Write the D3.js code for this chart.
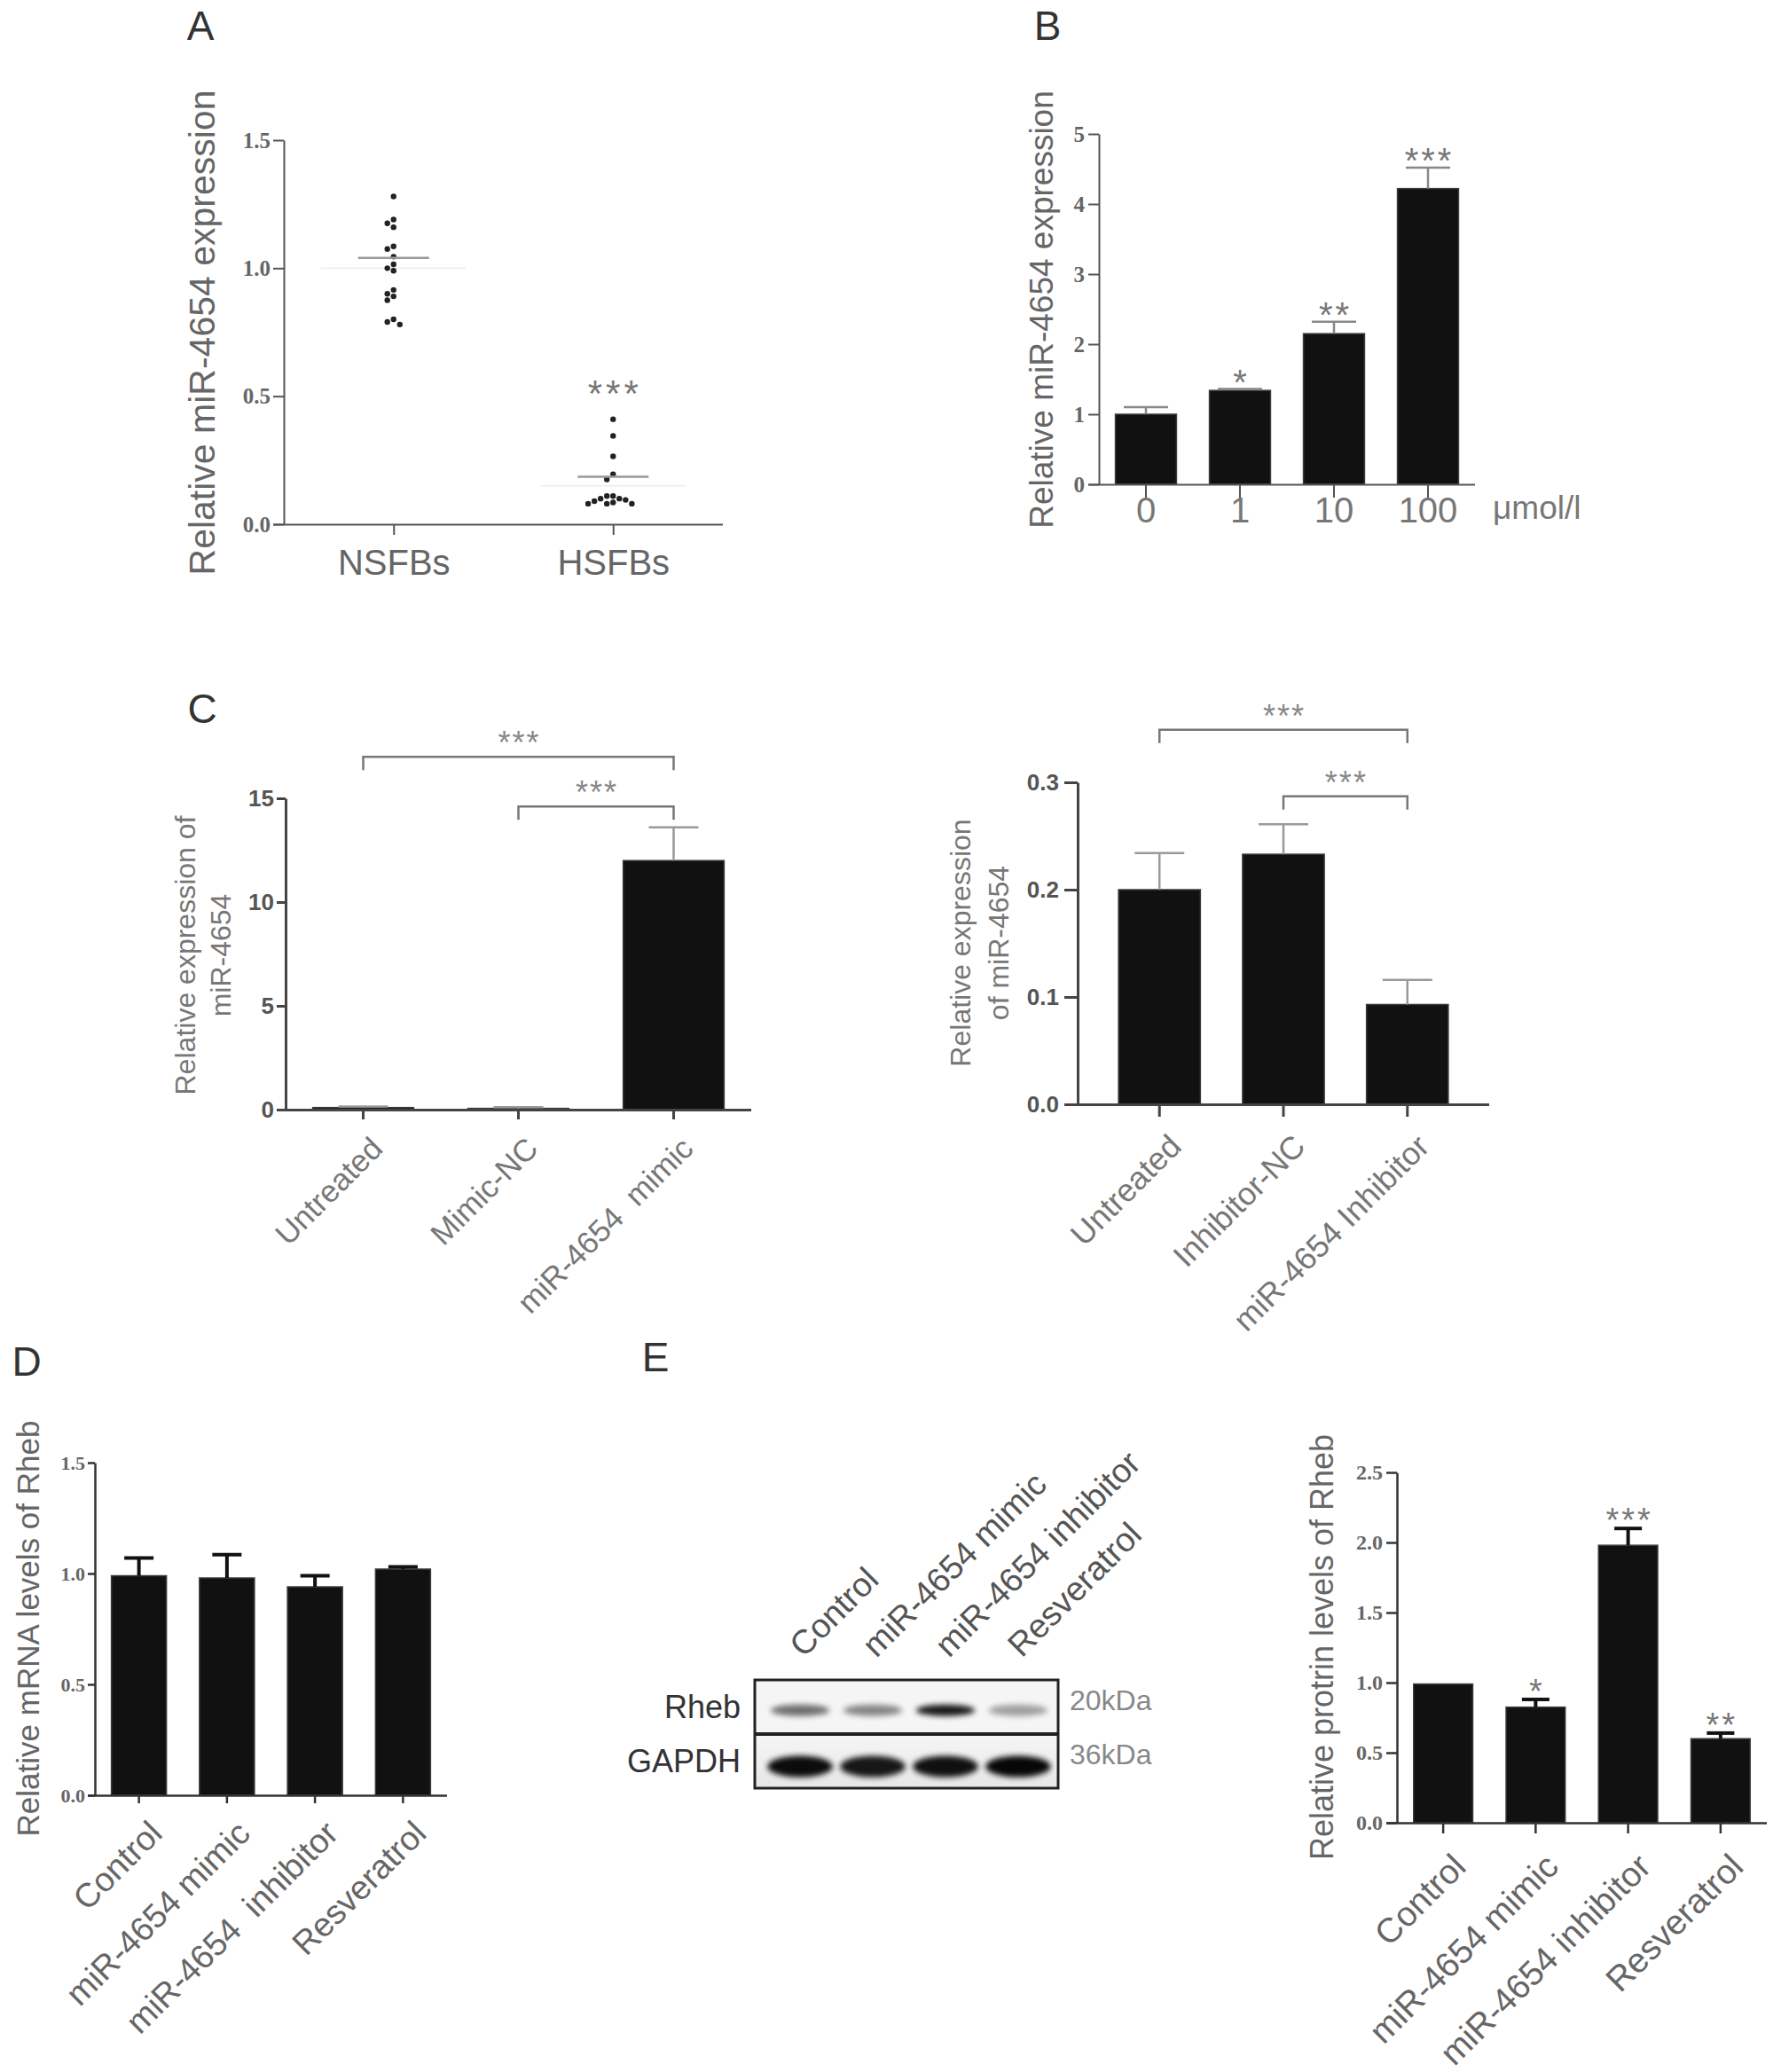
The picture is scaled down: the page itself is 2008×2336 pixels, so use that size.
<!DOCTYPE html>
<html>
<head>
<meta charset="utf-8">
<script src="https://cdn.jsdelivr.net/npm/d3@7"></script>
<style>
  body { margin: 0; background: #fff; }
  svg { display: block; }
</style>
</head>
<body>
<div id="figure"></div>
<script>
// ---- A: scatter of individual samples
const groupsA = ['NSFBs', 'HSFBs']
const nsfbValues = [1.28, 1.19, 1.175, 1.16, 1.085, 1.075, 1.045, 1.015, 1.0, 0.99, 0.915, 0.9, 0.89, 0.875, 0.80, 0.79, 0.78]
const hsfbValues = [0.41, 0.345, 0.265, 0.195, 0.175, 0.11, 0.11, 0.10, 0.10, 0.095, 0.09, 0.085, 0.08, 0.08, 0.08]
const meansA = [1.04, 0.185]
const ghostA = [1.0, 0.15]
const ticksA = [0, 0.5, 1.0, 1.5]
const starsA = ['', '***']

// ---- B: dose response
const dosesB = ['0', '1', '10', '100']
const valuesB = [1.0, 1.34, 2.15, 4.22]
const errorsB = [0.10, 0.02, 0.17, 0.30]
const starsB = ['', '*', '**', '***']
const ticksB = [0, 1, 2, 3, 4, 5]

// ---- C left: mimic
const groupsC1 = ['Untreated', 'Mimic-NC', 'miR-4654  mimic']
const valuesC1 = [0.1, 0.06, 12.0]
const errorsC1 = [0.05, 0.06, 1.6]
const ticksC1 = [0, 5, 10, 15]
const bracketsC1 = [
  { from: 0, to: 2, level: 17, label: '***' },
  { from: 1, to: 2, level: 14.6, label: '***' }
]

// ---- C right: inhibitor
const groupsC2 = ['Untreated', 'Inhibitor-NC', 'miR-4654 Inhibitor']
const valuesC2 = [0.2, 0.233, 0.093]
const errorsC2 = [0.034, 0.028, 0.023]
const ticksC2 = [0, 0.1, 0.2, 0.3]
const bracketsC2 = [
  { from: 0, to: 2, level: 0.349, label: '***' },
  { from: 1, to: 2, level: 0.287, label: '***' }
]

// ---- D: mRNA
const groupsD = ['Control', 'miR-4654 mimic', 'miR-4654  inhibitor', 'Resveratrol']
const valuesD = [0.99, 0.98, 0.94, 1.02]
const errorsD = [0.08, 0.105, 0.05, 0.01]
const ticksD = [0, 0.5, 1.0, 1.5]

// ---- E: western blot + protein
const lanesE = ['Control', 'miR-4654 mimic', 'miR-4654 inhibitor', 'Resveratrol']
const blotRows = ['Rheb', 'GAPDH']
const blotSizes = ['20kDa', '36kDa']
const rhebBand = [0.55, 0.45, 0.9, 0.35]
const gapdhBand = [0.95, 0.9, 0.93, 0.97]
const valuesE = [0.99, 0.825, 1.98, 0.60]
const errorsE = [0, 0.055, 0.12, 0.04]
const starsE = ['', '*', '***', '**']
const ticksE = [0, 0.5, 1.0, 1.5, 2.0, 2.5]

const SANS = "'Liberation Sans', Arial, sans-serif"
const SERIF = "'Liberation Serif', 'Times New Roman', serif"

const svg = d3.select('#figure').append('svg')
    .attr('width', 2008)
    .attr('height', 2336)
    .attr('font-family', SANS)
svg.append('rect').attr('width', 2008).attr('height', 2336).attr('fill', '#fff')

const defs = svg.append('defs')
defs.append('filter').attr('id', 'blur')
    .attr('x', '-30%').attr('y', '-80%').attr('width', '160%').attr('height', '260%')
    .append('feGaussianBlur').attr('stdDeviation', 3.2)
const grad = defs.append('linearGradient').attr('id', 'blotbg').attr('x1', 0).attr('x2', 0).attr('y1', 0).attr('y2', 1)
grad.append('stop').attr('offset', '0%').attr('stop-color', '#f6f6f6')
grad.append('stop').attr('offset', '100%').attr('stop-color', '#e6e6e6')

function panelLetter(letter, x, y) {
    svg.append('text').attr('x', x).attr('y', y)
        .attr('text-anchor', 'middle')
        .attr('font-size', 46).attr('fill', '#333')
        .text(letter)
}

function styleAxis(g, color, width) {
    g.selectAll('path.domain').attr('stroke', color).attr('stroke-width', width)
    g.selectAll('.tick line').attr('stroke', color).attr('stroke-width', width)
}

function yTitle(lines, x, y, size, color, gap) {
    lines.forEach((t, i) => {
        svg.append('text')
            .attr('transform', `translate(${x + i * gap},${y}) rotate(-90)`)
            .attr('text-anchor', 'middle')
            .attr('dominant-baseline', 'central')
            .attr('font-size', size).attr('fill', color)
            .text(t)
    })
}

function stars(g, label, cx, cy, size, spacing, color) {
    g.append('text')
        .attr('x', cx + spacing / 2).attr('y', cy + size * 0.58)
        .attr('text-anchor', 'middle')
        .attr('font-size', size)
        .attr('letter-spacing', spacing)
        .attr('fill', color)
        .text(label)
}

// generic GraphPad-like bar chart
function drawBars(o) {
    const g = svg.append('g')
    const x = d3.scaleBand().domain(o.groups)
        .range([o.left, o.right]).paddingInner(o.padIn).paddingOuter(o.padOut)
    const y = d3.scaleLinear().domain([0, o.ymax]).range([o.bottom, o.top])
    const cx = i => x(o.groups[i]) + x.bandwidth() / 2
    const rows = o.values.map((v, i) => ({ v, e: o.errors[i], i }))

    g.selectAll('rect.bar').data(rows).join('rect')
        .attr('class', 'bar')
        .attr('x', d => x(o.groups[d.i]))
        .attr('y', d => y(d.v))
        .attr('width', x.bandwidth())
        .attr('height', d => o.bottom - y(d.v))
        .attr('fill', '#111')
        .attr('stroke', '#3c3c3c').attr('stroke-width', 1.5)

    // upper error bars
    const eb = g.selectAll('g.err').data(rows.filter(d => d.e > 0)).join('g').attr('class', 'err')
    eb.append('line')
        .attr('x1', d => cx(d.i)).attr('x2', d => cx(d.i))
        .attr('y1', d => y(d.v)).attr('y2', d => y(d.v + d.e))
        .attr('stroke', o.errColor).attr('stroke-width', o.errWidth)
    eb.append('line')
        .attr('x1', d => cx(d.i) - o.cap / 2).attr('x2', d => cx(d.i) + o.cap / 2)
        .attr('y1', d => y(d.v + d.e)).attr('y2', d => y(d.v + d.e))
        .attr('stroke', o.errColor).attr('stroke-width', o.errWidth)

    // y axis
    const ya = g.append('g')
        .attr('transform', `translate(${o.left},0)`)
        .call(d3.axisLeft(y).tickValues(o.ticks).tickFormat(o.fmt)
            .tickSize(o.tick).tickSizeOuter(0).tickPadding(o.tickPad))
    ya.attr('font-family', o.tickFont).attr('font-size', o.tickSize)
        .attr('font-weight', 'bold')
    ya.selectAll('text').attr('fill', o.tickColor)
    styleAxis(ya, o.axisColor, o.axisWidth)

    // x axis, baseline runs under the y ticks as well
    const xa = g.append('g')
        .attr('transform', `translate(0,${o.bottom})`)
        .call(d3.axisBottom(x).tickSize(o.xtick).tickSizeOuter(0))
    styleAxis(xa, o.axisColor, o.axisWidth)
    xa.select('path.domain').attr('d', `M${o.left - o.tick},0.5H${o.right}`)
    xa.attr('font-family', SANS).attr('font-size', o.labelSize)
    xa.selectAll('text').attr('fill', o.labelColor).style('white-space', 'pre')
    if (o.rotate) {
        xa.selectAll('text')
            .attr('x', 0).attr('y', 0).attr('dy', null)
            .attr('transform', `translate(${o.labelDx},${o.labelDy}) rotate(-45)`)
            .attr('text-anchor', 'end')
            .attr('dominant-baseline', 'hanging')
    } else {
        xa.selectAll('text').attr('y', o.labelDy).attr('dy', null)
    }

    if (o.stars) {
        o.stars.forEach((s, i) => {
            if (!s) return
            stars(g, s, cx(i), y(o.values[i] + o.errors[i]) - o.starGap, o.starSize, o.starSpacing, o.starColor)
        })
    }
    if (o.brackets) {
        o.brackets.forEach(b => {
            const yb = y(b.level)
            g.append('path')
                .attr('d', `M${cx(b.from)},${yb + 15}V${yb}H${cx(b.to)}V${yb + 15}`)
                .attr('fill', 'none').attr('stroke', '#777').attr('stroke-width', 2.5)
            stars(g, b.label, (cx(b.from) + cx(b.to)) / 2, yb - 24, o.starSize, o.starSpacing, o.starColor)
        })
    }
    return { g, x, y }
}

// ================= A =================
panelLetter('A', 226, 45)
{
    const g = svg.append('g')
    const x = d3.scalePoint().domain(groupsA).range([320, 815]).padding(0.5)
    const y = d3.scaleLinear().domain([0, 1.5]).range([591, 158])
    const r = 3.2

    ghostA.forEach((v, i) => {
        g.append('line')
            .attr('x1', x(groupsA[i]) - 82).attr('x2', x(groupsA[i]) + 82)
            .attr('y1', y(v)).attr('y2', y(v))
            .attr('stroke', '#f0f0f0').attr('stroke-width', 2)
    })

    function swarm(values, cx) {
        const placed = []
        return values.slice().sort((a, b) => b - a).map(v => {
            const py = y(v)
            let px = cx
            for (const k of [0, -1, 1, -2, 2, -3, 3, -4, 4]) {
                px = cx + k * r * 2.2
                if (placed.every(p => Math.hypot(p[0] - px, p[1] - py) >= r * 2.1)) break
            }
            placed.push([px, py])
            return [px, py]
        })
    }
    const pts = swarm(nsfbValues, x('NSFBs')).concat(swarm(hsfbValues, x('HSFBs')))
    g.selectAll('circle').data(pts).join('circle')
        .attr('cx', d => d[0]).attr('cy', d => d[1]).attr('r', r)
        .attr('fill', '#222')

    meansA.forEach((m, i) => {
        g.append('line')
            .attr('x1', x(groupsA[i]) - 40).attr('x2', x(groupsA[i]) + 40)
            .attr('y1', y(m)).attr('y2', y(m))
            .attr('stroke', '#999').attr('stroke-width', 2.5)
    })

    const ya = g.append('g').attr('transform', 'translate(320,0)')
        .call(d3.axisLeft(y).tickValues(ticksA).tickFormat(d3.format('.1f'))
            .tickSize(12).tickSizeOuter(0).tickPadding(3))
    ya.attr('font-family', SERIF).attr('font-size', 25).attr('font-weight', 'bold')
    ya.selectAll('text').attr('fill', '#666')
    styleAxis(ya, '#555', 2)

    const xa = g.append('g').attr('transform', 'translate(0,591)')
        .call(d3.axisBottom(x).tickSize(12).tickSizeOuter(0))
    styleAxis(xa, '#555', 2)
    xa.select('path.domain').attr('d', 'M308,0.5H815')
    xa.attr('font-family', SANS).attr('font-size', 40)
    xa.selectAll('text').attr('fill', '#666').attr('y', 57).attr('dy', null)

    starsA.forEach((s, i) => {
        if (s) stars(g, s, x(groupsA[i]), 434, 42, 4, '#777')
    })
    yTitle(['Relative miR-4654 expression'], 228, 375, 41, '#666', 0)
}

// ================= B =================
panelLetter('B', 1181, 45)
{
    const b = drawBars({
        groups: dosesB, values: valuesB, errors: errorsB,
        left: 1239, right: 1663, top: 151, bottom: 546, ymax: 5,
        padIn: 0.35, padOut: 0.175,
        ticks: ticksB, fmt: d3.format('d'), tick: 12, xtick: 15, tickPad: 4,
        tickFont: SERIF, tickSize: 25, tickColor: '#666',
        axisColor: '#555', axisWidth: 2,
        labelSize: 40, labelColor: '#777', labelDy: 43, rotate: false,
        errColor: '#888', errWidth: 2.5, cap: 50,
        stars: starsB, starGap: 17, starSize: 40, starSpacing: 3, starColor: '#777'
    })
    b.g.append('text').attr('x', 1683).attr('y', 585)
        .attr('font-size', 37).attr('fill', '#777').text('μmol/l')
    yTitle(['Relative miR-4654 expression'], 1174, 349, 37, '#666', 0)
}

// ================= C =================
panelLetter('C', 228, 815)
drawBars({
    groups: groupsC1, values: valuesC1, errors: errorsC1,
    left: 322, right: 847, top: 900, bottom: 1251, ymax: 15,
    padIn: 0.35, padOut: 0.175,
    ticks: ticksC1, fmt: d3.format('d'), tick: 10, xtick: 11, tickPad: 3,
    tickFont: SANS, tickSize: 26, tickColor: '#555',
    axisColor: '#444', axisWidth: 3,
    labelSize: 35, labelColor: '#777', labelDx: 6, labelDy: 28, rotate: true,
    errColor: '#999', errWidth: 2.5, cap: 56,
    brackets: bracketsC1, starSize: 36, starSpacing: 2, starColor: '#888'
})
yTitle(['Relative expression of', 'miR-4654'], 209, 1077, 32, '#777', 40)

drawBars({
    groups: groupsC2, values: valuesC2, errors: errorsC2,
    left: 1215, right: 1679, top: 882, bottom: 1245, ymax: 0.3,
    padIn: 0.34, padOut: 0.33,
    ticks: ticksC2, fmt: d3.format('.1f'), tick: 15, xtick: 14, tickPad: 6,
    tickFont: SANS, tickSize: 26, tickColor: '#555',
    axisColor: '#444', axisWidth: 3,
    labelSize: 36, labelColor: '#777', labelDx: 8, labelDy: 31, rotate: true,
    errColor: '#999', errWidth: 2.5, cap: 56,
    brackets: bracketsC2, starSize: 36, starSpacing: 2, starColor: '#888'
})
yTitle(['Relative expression', 'of miR-4654'], 1083, 1063, 32, '#777', 43)

// ================= D =================
panelLetter('D', 30, 1551)
drawBars({
    groups: groupsD, values: valuesD, errors: errorsD,
    left: 107, right: 504, top: 1649, bottom: 2024, ymax: 1.5,
    padIn: 0.375, padOut: 0.1875,
    ticks: ticksD, fmt: d3.format('.1f'), tick: 8, xtick: 9, tickPad: 3,
    tickFont: SERIF, tickSize: 22, tickColor: '#666',
    axisColor: '#333', axisWidth: 2.5,
    labelSize: 38, labelColor: '#666', labelDx: 9, labelDy: 26, rotate: true,
    errColor: '#111', errWidth: 4, cap: 33
})
yTitle(['Relative mRNA levels of Rheb'], 31, 1836, 35, '#666', 0)

// ================= E =================
panelLetter('E', 739, 1546)
{
    const g = svg.append('g')
    const box = { x0: 851, x1: 1193, y0: 1894, y1: 2016 }
    const lane = d3.scaleBand().domain(lanesE).range([box.x0 + 6, box.x1]).padding(0.1)
    const row = d3.scaleBand().domain(blotRows).range([box.y0, box.y1])
    const lc = d => lane(d) + lane.bandwidth() / 2

    g.selectAll('rect.rowbg').data(blotRows).join('rect')
        .attr('x', box.x0).attr('y', d => row(d))
        .attr('width', box.x1 - box.x0).attr('height', row.bandwidth())
        .attr('fill', (d, i) => i === 0 ? '#f5f5f5' : 'url(#blotbg)')

    g.selectAll('ellipse.rheb').data(rhebBand).join('ellipse')
        .attr('cx', (d, i) => lc(lanesE[i]))
        .attr('cy', row('Rheb') + row.bandwidth() * 0.56)
        .attr('rx', lane.bandwidth() * 0.45).attr('ry', 6.5)
        .attr('fill', '#000').attr('opacity', d => d)
        .attr('filter', 'url(#blur)')
    g.selectAll('ellipse.gapdh').data(gapdhBand).join('ellipse')
        .attr('cx', (d, i) => lc(lanesE[i]))
        .attr('cy', row('GAPDH') + row.bandwidth() * 0.6)
        .attr('rx', lane.bandwidth() * 0.5).attr('ry', 12)
        .attr('fill', '#000').attr('opacity', d => d)
        .attr('filter', 'url(#blur)')

    g.append('rect').attr('x', box.x0).attr('y', box.y0)
        .attr('width', box.x1 - box.x0).attr('height', box.y1 - box.y0)
        .attr('fill', 'none').attr('stroke', '#222').attr('stroke-width', 3)
    g.append('line').attr('x1', box.x0).attr('x2', box.x1)
        .attr('y1', row('GAPDH')).attr('y2', row('GAPDH'))
        .attr('stroke', '#222').attr('stroke-width', 4)

    g.selectAll('text.rowlab').data(blotRows).join('text')
        .attr('x', 835).attr('y', d => row(d) + row.bandwidth() / 2 + 12)
        .attr('text-anchor', 'end').attr('font-size', 36).attr('fill', '#333')
        .text(d => d)
    g.selectAll('text.kda').data(blotSizes).join('text')
        .attr('x', 1206).attr('y', (d, i) => row(blotRows[i]) + row.bandwidth() / 2 + 3)
        .attr('font-size', 32).attr('fill', '#888')
        .text(d => d)
    g.selectAll('text.lane').data(lanesE).join('text')
        .attr('transform', d => `translate(${lc(d) + 4},1870) rotate(-45)`)
        .attr('font-size', 38).attr('fill', '#555')
        .text(d => d)
}

drawBars({
    groups: lanesE, values: valuesE, errors: errorsE,
    left: 1575, right: 1992, top: 1660, bottom: 2055, ymax: 2.5,
    padIn: 0.36, padOut: 0.18,
    ticks: ticksE, fmt: d3.format('.1f'), tick: 12, xtick: 12, tickPad: 4,
    tickFont: SERIF, tickSize: 24, tickColor: '#666',
    axisColor: '#333', axisWidth: 2.5,
    labelSize: 39, labelColor: '#666', labelDx: 8, labelDy: 32, rotate: true,
    errColor: '#111', errWidth: 4, cap: 31,
    stars: starsE, starGap: 18, starSize: 38, starSpacing: 3, starColor: '#777'
})
yTitle(['Relative protrin levels of Rheb'], 1490, 1857, 36, '#666', 0)
</script>
</body>
</html>
